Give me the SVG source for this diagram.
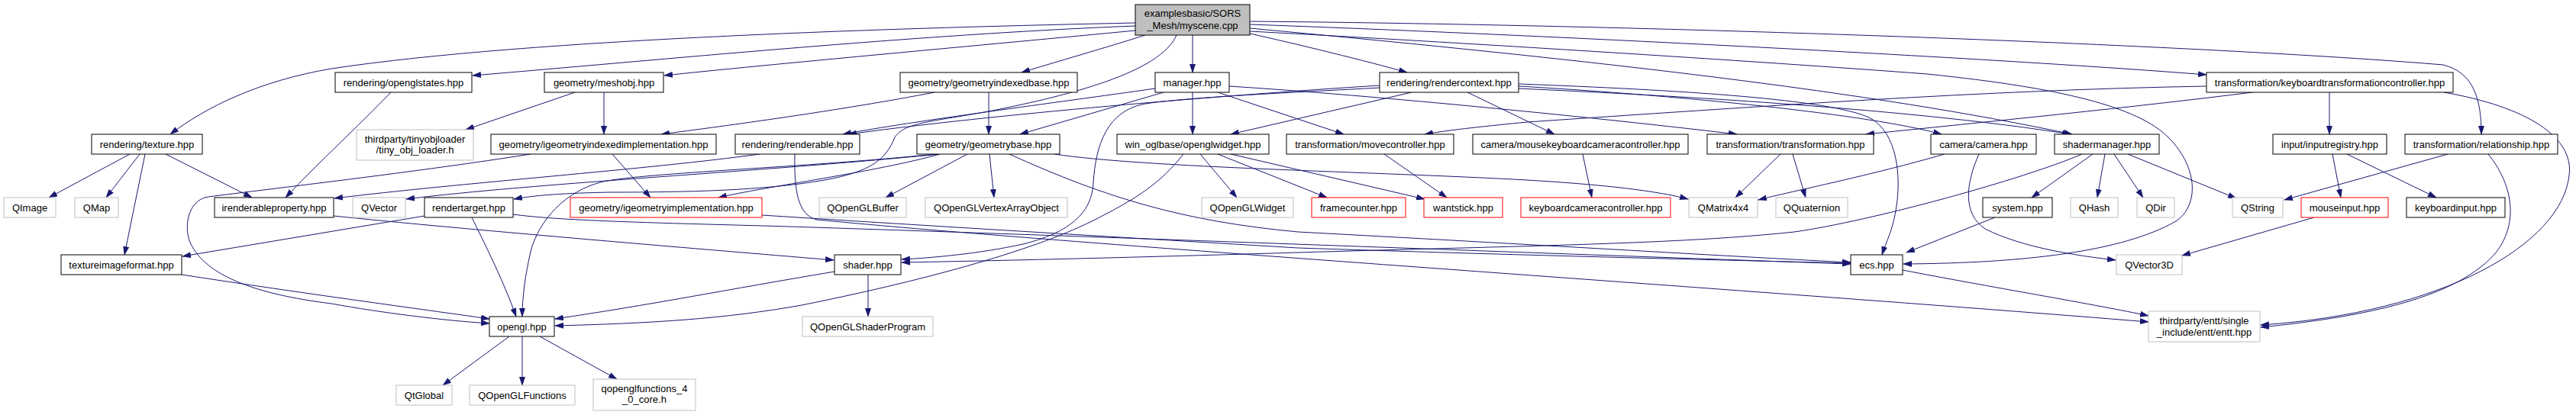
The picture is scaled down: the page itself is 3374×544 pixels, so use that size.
<svg xmlns="http://www.w3.org/2000/svg" width="3374" height="544" viewBox="0 0 3374 544">
<defs>
<marker id="a" viewBox="0 0 12 8" refX="11" refY="4" markerWidth="12" markerHeight="8" markerUnits="userSpaceOnUse" orient="auto"><path d="M0,0 L12,4 L0,8 z" fill="#191970"/></marker>
</defs>
<style>
rect{fill:#fff;stroke:#000;stroke-width:1}
.g rect{stroke:#bfbfbf}
.r rect{stroke:#ff0000}
.root rect{fill:#bfbfbf}
text{font-family:"Liberation Sans",Arial,sans-serif;font-size:13px;text-anchor:middle;fill:#000}
#edges path{fill:none;stroke:#191970;stroke-width:1;marker-end:url(#a)}
</style>
<rect x="0" y="0" width="3374" height="544" style="fill:#fff;stroke:none"/>
<g id="edges">
<path d="M1487,30 C1200,36 700,50 434,90 C340,106 270,140 223,176"/>
<path d="M1487,34 C1200,45 850,80 619,99"/>
<path d="M1487,40 C1300,58 1000,85 870,99"/>
<path d="M1500,46 C1450,62 1380,82 1338,95"/>
<path d="M1541,46 C1520,95 1400,125 1300,145 C1220,160 1185,160 1172,180 C1160,210 1140,225 1080,236 C1000,250 900,252 800,252 C740,253 700,256 673,261"/>
<path d="M1562,46 L1562,95"/>
<path d="M1637,44 C1700,58 1790,80 1843,95"/>
<path d="M1637,32 C2000,45 2600,75 2890,98"/>
<path d="M1637,28 C2200,33 2900,60 3200,85 C3240,95 3250,130 3250,176"/>
<path d="M1637,37 C2100,80 2450,120 2714,176"/>
<path d="M1637,41 C1900,55 2300,80 2524,97 C2700,115 2800,140 2840,180 C2880,220 2880,270 2850,290 C2780,330 2650,345 2493,346"/>
<path d="M512,121 C470,165 420,210 374,259"/>
<path d="M753,121 L610,170"/>
<path d="M791,121 L791,176"/>
<path d="M1224,121 C1100,145 950,165 866,176"/>
<path d="M1295,121 L1295,176"/>
<path d="M1513,116 C1380,135 1200,158 1104,176"/>
<path d="M1807,112 C1600,125 1300,150 1111,176"/>
<path d="M1524,121 L1336,176"/>
<path d="M1562,121 L1562,176"/>
<path d="M1595,121 L1760,176"/>
<path d="M1610,113 C1800,125 2100,155 2275,176"/>
<path d="M1807,115 C1700,121 1560,127 1500,136 C1450,145 1435,190 1432,240 C1430,280 1400,305 1340,320 C1280,333 1220,338 1181,340"/>
<path d="M1849,121 L1612,176"/>
<path d="M1922,121 L2036,176"/>
<path d="M1989,113 C2200,125 2450,150 2543,176"/>
<path d="M1989,116 C2300,130 2550,150 2712,176"/>
<path d="M1989,110 C2200,118 2400,130 2450,155 C2485,175 2490,230 2484,270 C2480,300 2470,318 2465,334"/>
<path d="M2890,113 C2600,118 2300,140 2000,160 C1950,165 1900,170 1866,176"/>
<path d="M2950,121 C2800,140 2600,160 2444,176"/>
<path d="M3051,121 L3051,176"/>
<path d="M3201,121 C3310,140 3372,180 3365,230 C3355,320 3200,410 2961,426"/>
<path d="M3259,202 C3290,240 3300,290 3270,330 C3220,390 3100,415 2961,429"/>
<path d="M3206,202 L2992,262"/>
<path d="M170,202 L64,259"/>
<path d="M183,202 L139,259"/>
<path d="M190,202 L163,334"/>
<path d="M217,202 L330,259"/>
<path d="M802,202 L852,259"/>
<path d="M695,202 C550,225 350,248 273,258 C245,262 240,300 250,320 C270,360 330,385 434,398 C500,410 580,420 641,424"/>
<path d="M995,202 C850,222 600,240 438,260"/>
<path d="M1041,202 C1040,250 1045,282 1070,288 C1400,320 2300,380 2814,422"/>
<path d="M1231,202 C1000,225 700,240 532,261"/>
<path d="M1225,202 C1050,220 850,226 790,238 C740,250 705,290 695,330 C688,360 684,390 684,415"/>
<path d="M1231,202 C1150,225 1000,245 941,259"/>
<path d="M1267,202 L1160,259"/>
<path d="M1296,202 L1302,259"/>
<path d="M1381,202 C1500,220 1800,225 2000,236 C2100,242 2170,250 2211,261"/>
<path d="M1322,202 C1450,260 1550,290 1700,304 C2000,320 2300,338 2424,344"/>
<path d="M1572,202 L1620,259"/>
<path d="M1595,202 L1738,259"/>
<path d="M1612,202 L1866,261"/>
<path d="M1550,202 C1520,240 1490,260 1430,290 C1350,330 1200,370 1050,400 C950,418 850,424 727,427"/>
<path d="M1813,202 L1895,259"/>
<path d="M2073,202 L2085,259"/>
<path d="M2332,202 L2273,259"/>
<path d="M2348,202 L2365,259"/>
<path d="M2547,202 C2450,230 2350,250 2303,262"/>
<path d="M2592,202 C2575,240 2570,280 2600,300 C2650,325 2720,335 2771,341"/>
<path d="M2741,202 L2661,259"/>
<path d="M2757,202 L2747,259"/>
<path d="M2769,202 L2807,259"/>
<path d="M2787,202 L2929,260"/>
<path d="M2727,202 C2650,235 2450,290 2350,304 C2200,320 2000,322 1700,331 C1500,337 1300,342 1181,344"/>
<path d="M3055,202 L3066,259"/>
<path d="M3074,202 L3191,259"/>
<path d="M437,283 C600,300 900,325 1092,341"/>
<path d="M556,283 L239,336"/>
<path d="M618,285 C640,330 660,370 676,415"/>
<path d="M672,281 C730,289 850,292 1000,296 C1300,305 2100,335 2424,346"/>
<path d="M998,282 C1200,295 1400,307 1700,325 C2000,335 2300,342 2424,345"/>
<path d="M2613,285 L2497,331"/>
<path d="M3031,285 L2858,335"/>
<path d="M238,360 C400,385 550,405 641,418"/>
<path d="M1093,356 C950,380 850,400 727,418"/>
<path d="M1137,360 L1137,415"/>
<path d="M2492,354 C2600,375 2750,400 2814,414"/>
<path d="M667,441 L580,505"/>
<path d="M684,441 L684,505"/>
<path d="M707,441 L808,497"/>
</g>
<g id="n_root" class="root"><rect x="1487" y="6" width="150" height="40"/><text x="1562" y="22">examplesbasic/SORS</text><text x="1562" y="38">_Mesh/myscene.cpp</text></g>
<g id="n_openglstates"><rect x="439" y="95" width="179" height="26"/><text x="528.5" y="112.5">rendering/openglstates.hpp</text></g>
<g id="n_meshobj"><rect x="713" y="95" width="156" height="26"/><text x="791" y="112.5">geometry/meshobj.hpp</text></g>
<g id="n_geometryindexedbase"><rect x="1179" y="95" width="232" height="26"/><text x="1295" y="112.5">geometry/geometryindexedbase.hpp</text></g>
<g id="n_manager"><rect x="1513" y="95" width="97" height="26"/><text x="1561.5" y="112.5">manager.hpp</text></g>
<g id="n_rendercontext"><rect x="1807" y="95" width="182" height="26"/><text x="1898" y="112.5">rendering/rendercontext.hpp</text></g>
<g id="n_kbtc"><rect x="2890" y="95" width="323" height="26"/><text x="3051.5" y="112.5">transformation/keyboardtransformationcontroller.hpp</text></g>
<g id="n_texture"><rect x="120" y="176" width="145" height="26"/><text x="192.5" y="193.5">rendering/texture.hpp</text></g>
<g id="n_tinyobj" class="g"><rect x="467" y="170" width="153" height="40"/><text x="543.5" y="186.5">thirdparty/tinyobjloader</text><text x="543.5" y="201">/tiny_obj_loader.h</text></g>
<g id="n_igeomindexedimpl"><rect x="643" y="176" width="295" height="26"/><text x="790.5" y="193.5">geometry/igeometryindexedimplementation.hpp</text></g>
<g id="n_renderable"><rect x="963" y="176" width="163" height="26"/><text x="1044.5" y="193.5">rendering/renderable.hpp</text></g>
<g id="n_geometrybase"><rect x="1201" y="176" width="187" height="26"/><text x="1294.5" y="193.5">geometry/geometrybase.hpp</text></g>
<g id="n_openglwidget"><rect x="1463" y="176" width="199" height="26"/><text x="1562.5" y="193.5">win_oglbase/openglwidget.hpp</text></g>
<g id="n_movecontroller"><rect x="1685" y="176" width="219" height="26"/><text x="1794.5" y="193.5">transformation/movecontroller.hpp</text></g>
<g id="n_mkcc"><rect x="1929" y="176" width="282" height="26"/><text x="2070" y="193.5">camera/mousekeyboardcameracontroller.hpp</text></g>
<g id="n_transformation"><rect x="2236" y="176" width="218" height="26"/><text x="2345" y="193.5">transformation/transformation.hpp</text></g>
<g id="n_camera"><rect x="2529" y="176" width="138" height="26"/><text x="2598" y="193.5">camera/camera.hpp</text></g>
<g id="n_shadermanager"><rect x="2691" y="176" width="137" height="26"/><text x="2759.5" y="193.5">shadermanager.hpp</text></g>
<g id="n_inputregistry"><rect x="2977" y="176" width="149" height="26"/><text x="3051.5" y="193.5">input/inputregistry.hpp</text></g>
<g id="n_relationship"><rect x="3150" y="176" width="200" height="26"/><text x="3250" y="193.5">transformation/relationship.hpp</text></g>
<g id="n_QImage" class="g"><rect x="5" y="259" width="68" height="26"/><text x="39" y="276.5">QImage</text></g>
<g id="n_QMap" class="g"><rect x="98" y="259" width="57" height="26"/><text x="126.5" y="276.5">QMap</text></g>
<g id="n_irenderableproperty"><rect x="281" y="259" width="156" height="26"/><text x="359" y="276.5">irenderableproperty.hpp</text></g>
<g id="n_QVector" class="g"><rect x="462" y="259" width="69" height="26"/><text x="496.5" y="276.5">QVector</text></g>
<g id="n_rendertarget"><rect x="556" y="259" width="116" height="26"/><text x="614" y="276.5">rendertarget.hpp</text></g>
<g id="n_igeomimpl" class="r"><rect x="747" y="259" width="251" height="26"/><text x="872.5" y="276.5">geometry/igeometryimplementation.hpp</text></g>
<g id="n_QOpenGLBuffer" class="g"><rect x="1073" y="259" width="114" height="26"/><text x="1130" y="276.5">QOpenGLBuffer</text></g>
<g id="n_QOpenGLVAO" class="g"><rect x="1212" y="259" width="186" height="26"/><text x="1305" y="276.5">QOpenGLVertexArrayObject</text></g>
<g id="n_QOpenGLWidget" class="g"><rect x="1574" y="259" width="120" height="26"/><text x="1634" y="276.5">QOpenGLWidget</text></g>
<g id="n_framecounter" class="r"><rect x="1718" y="259" width="123" height="26"/><text x="1779.5" y="276.5">framecounter.hpp</text></g>
<g id="n_wantstick" class="r"><rect x="1865" y="259" width="103" height="26"/><text x="1916.5" y="276.5">wantstick.hpp</text></g>
<g id="n_kbcc" class="r"><rect x="1992" y="259" width="196" height="26"/><text x="2090" y="276.5">keyboardcameracontroller.hpp</text></g>
<g id="n_QMatrix4x4" class="g"><rect x="2212" y="259" width="90" height="26"/><text x="2257" y="276.5">QMatrix4x4</text></g>
<g id="n_QQuaternion" class="g"><rect x="2326" y="259" width="94" height="26"/><text x="2373" y="276.5">QQuaternion</text></g>
<g id="n_system"><rect x="2597" y="259" width="91" height="26"/><text x="2642.5" y="276.5">system.hpp</text></g>
<g id="n_QHash" class="g"><rect x="2712" y="259" width="62" height="26"/><text x="2743" y="276.5">QHash</text></g>
<g id="n_QDir" class="g"><rect x="2799" y="259" width="49" height="26"/><text x="2823.5" y="276.5">QDir</text></g>
<g id="n_QString" class="g"><rect x="2924" y="259" width="66" height="26"/><text x="2957" y="276.5">QString</text></g>
<g id="n_mouseinput" class="r"><rect x="3014" y="259" width="114" height="26"/><text x="3071" y="276.5">mouseinput.hpp</text></g>
<g id="n_keyboardinput"><rect x="3152" y="259" width="129" height="26"/><text x="3216.5" y="276.5">keyboardinput.hpp</text></g>
<g id="n_textureimageformat"><rect x="80" y="334" width="158" height="26"/><text x="159" y="351.5">textureimageformat.hpp</text></g>
<g id="n_shader"><rect x="1093" y="334" width="87" height="26"/><text x="1136.5" y="351.5">shader.hpp</text></g>
<g id="n_ecs"><rect x="2424" y="334" width="68" height="26"/><text x="2458" y="351.5">ecs.hpp</text></g>
<g id="n_QVector3D" class="g"><rect x="2772" y="334" width="86" height="26"/><text x="2815" y="351.5">QVector3D</text></g>
<g id="n_opengl"><rect x="641" y="415" width="85" height="26"/><text x="683.5" y="432.5">opengl.hpp</text></g>
<g id="n_QOpenGLShaderProgram" class="g"><rect x="1051" y="415" width="171" height="26"/><text x="1136.5" y="432.5">QOpenGLShaderProgram</text></g>
<g id="n_entt" class="g"><rect x="2814" y="408" width="146" height="40"/><text x="2887" y="425">thirdparty/entt/single</text><text x="2887" y="439.5">_include/entt/entt.hpp</text></g>
<g id="n_QtGlobal" class="g"><rect x="519" y="505" width="73" height="26"/><text x="555.5" y="522.5">QtGlobal</text></g>
<g id="n_QOpenGLFunctions" class="g"><rect x="615" y="505" width="138" height="26"/><text x="684" y="522.5">QOpenGLFunctions</text></g>
<g id="n_qopenglfunctions40" class="g"><rect x="777" y="497" width="134" height="41"/><text x="844" y="513.5">qopenglfunctions_4</text><text x="844" y="528">_0_core.h</text></g>
</svg>
